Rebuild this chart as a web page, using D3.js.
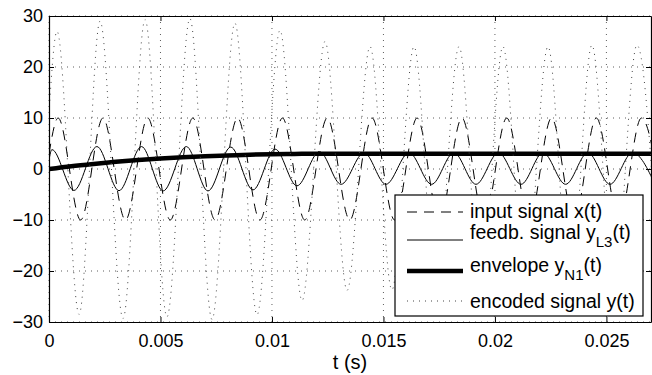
<!DOCTYPE html>
<html>
<head>
<meta charset="utf-8">
<script src="https://cdn.jsdelivr.net/npm/d3@7/dist/d3.min.js"></script>
<style>
body { margin: 0; background: #fff; }
svg { display: block; font-family: "Liberation Sans", Arial, Helvetica, sans-serif; }
</style>
</head>
<body>
<script>
// tick values
let x_ticks = [0, 0.005, 0.01, 0.015, 0.02, 0.025];
let y_ticks = [-30, -20, -10, 0, 10, 20, 30];

// input signal x(t): start + extrema
let input_t = [0, 0.00041, 0.00142, 0.00242, 0.00343, 0.00443, 0.00544, 0.00645, 0.00745, 0.00846, 0.00946,
               0.01047, 0.01147, 0.01248, 0.01349, 0.01449, 0.0155, 0.01651, 0.01751, 0.01852, 0.01952,
               0.02053, 0.02154, 0.02254, 0.02355, 0.02455, 0.02556, 0.02657, 0.02758];
let input_v = [3, 10, -10, 10, -10, 10, -10, 10, -10, 10, -10, 10, -10, 10, -10,
               10, -10, 10, -10, 10, -10, 10, -10, 10, -10, 10, -10, 10, -10];

// feedback signal y_L3(t)
let feedb_t = [0, 0.00013, 0.00112, 0.00215, 0.00314, 0.00415, 0.00512, 0.00616, 0.00713, 0.00815, 0.00915,
               0.01014, 0.01112, 0.01213, 0.0131, 0.01413, 0.01511, 0.01615, 0.01716, 0.01816, 0.01915,
               0.02016, 0.02117, 0.02216, 0.02317, 0.02417, 0.02516, 0.02617, 0.02718];
let feedb_v = [1.8, 3.8, -4.2, 4.4, -4.25, 4.4, -4.3, 4.4, -4.3, 4.3, -4.1, 3.9, -3.3, 3.4, -3.0,
               3.2, -3.0, 3.2, -3.0, 3.2, -3.0, 3.2, -3.0, 3.2, -3.0, 3.2, -3.0, 3.2, -3.0];

// envelope y_N1(t)
let env_t = [0, 0.001, 0.002, 0.003, 0.004, 0.005, 0.006, 0.007, 0.008, 0.009, 0.01, 0.011, 0.012, 0.014, 0.027];
let env_v = [0, 0.55, 1.0, 1.4, 1.75, 2.05, 2.3, 2.5, 2.65, 2.8, 2.9, 2.95, 3.0, 3.0, 3.0];

// encoded signal y(t)
let enc_t = [0, 0.00036, 0.00135, 0.00229, 0.00332, 0.00431, 0.00529, 0.00632, 0.00731, 0.00834, 0.00933,
             0.01036, 0.01135, 0.01238, 0.01337, 0.0144, 0.01538, 0.01637, 0.01736, 0.01839, 0.01938,
             0.02036, 0.02135, 0.02238, 0.02337, 0.02435, 0.02534, 0.02637, 0.02736];
let enc_v = [11, 27, -28.5, 29, -29.3, 29.3, -29, 29.5, -29.5, 28.6, -28.6, 27.2, -25.8, 25, -23.8,
             24, -23.7, 24, -23.7, 24, -23.7, 24, -23.7, 24, -23.7, 24.3, -23.7, 24.3, -23.7];

// legend texts (main, subscript, rest)
let legend_texts = [
    ["input signal x(t)", "", ""],
    ["feedb. signal y", "L3", "(t)"],
    ["envelope y", "N1", "(t)"],
    ["encoded signal y(t)", "", ""]
];

// size
let width = 652;
let height = 375;
let plot = {left: 49, right: 651, top: 16, bottom: 322};

let styles = [
    {stroke: "#000", width: 1, dash: "10,7"},
    {stroke: "#000", width: 1, dash: null},
    {stroke: "#000", width: 4.5, dash: null},
    {stroke: "#444", width: 1, dash: "1,5"}
];

let svg = d3.select("body").append("svg")
            .attr("width", width)
            .attr("height", height);

let x = d3.scaleLinear().domain([0, 0.027]).range([plot.left, plot.right]);
let y = d3.scaleLinear().domain([-30, 30]).range([plot.bottom, plot.top]);

svg.append("clipPath").attr("id", "clip")
   .append("rect")
   .attr("x", plot.left).attr("y", plot.top)
   .attr("width", plot.right - plot.left)
   .attr("height", plot.bottom - plot.top);

// grid
let grid = svg.append("g").attr("stroke", "#333").attr("stroke-width", 0.8).attr("stroke-dasharray", "1,5");
grid.selectAll(".gx").data(x_ticks).enter().append("line")
    .attr("x1", d => x(d)).attr("x2", d => x(d))
    .attr("y1", plot.top).attr("y2", plot.bottom);
grid.selectAll(".gy").data(y_ticks).enter().append("line")
    .attr("x1", plot.left).attr("x2", plot.right)
    .attr("y1", d => y(d)).attr("y2", d => y(d));

// signals
let line = d3.line().x(d => x(d[0])).y(d => y(d[1])).curve(d3.curveMonotoneX);
let series = [d3.zip(input_t, input_v), d3.zip(feedb_t, feedb_v), d3.zip(env_t, env_v), d3.zip(enc_t, enc_v)];

let sig = svg.append("g").attr("clip-path", "url(#clip)");
series.forEach((s, i) => {
    sig.append("path")
       .attr("d", line(s))
       .attr("fill", "none")
       .attr("stroke", styles[i].stroke)
       .attr("stroke-width", styles[i].width)
       .attr("stroke-dasharray", styles[i].dash);
});

// axes
let fmt_y = d => d < 0 ? "\u2212" + (-d) : String(d);
let fmt_x = d => String(d);

let ax_b = svg.append("g").attr("transform", `translate(0,${plot.bottom})`)
              .call(d3.axisBottom(x).tickValues(x_ticks).tickSize(-5).tickSizeOuter(0).tickPadding(12).tickFormat(fmt_x));
let ax_t = svg.append("g").attr("transform", `translate(0,${plot.top})`)
              .call(d3.axisTop(x).tickValues(x_ticks).tickSize(-5).tickSizeOuter(0).tickFormat(""));
let ax_l = svg.append("g").attr("transform", `translate(${plot.left},0)`)
              .call(d3.axisLeft(y).tickValues(y_ticks).tickSize(-5).tickSizeOuter(0).tickPadding(6).tickFormat(fmt_y));
let ax_r = svg.append("g").attr("transform", `translate(${plot.right},0)`)
              .call(d3.axisRight(y).tickValues(y_ticks).tickSize(-5).tickSizeOuter(0).tickFormat(""));

[ax_b, ax_t, ax_l, ax_r].forEach(a => {
    a.select(".domain").attr("stroke", "#000").attr("stroke-width", 1.2);
    a.selectAll(".tick line").attr("stroke", "#000");
    a.selectAll("text").attr("fill", "#000").style("font-size", "18px")
     .style("font-family", "'Liberation Sans', Arial, sans-serif");
});

svg.append("text")
   .attr("x", (plot.left + plot.right) / 2)
   .attr("y", 369)
   .attr("text-anchor", "middle")
   .style("font-size", "20px")
   .text("t (s)");

// legend
let lg = svg.append("g");
lg.append("rect")
  .attr("x", 395).attr("y", 195).attr("width", 248).attr("height", 121)
  .attr("fill", "#fff").attr("stroke", "#000").attr("stroke-width", 1.2);

let row_line_y = [212, 240, 271, 301];
let row_text_y = [217.5, 239, 271.5, 307.5];

legend_texts.forEach((t, i) => {
    lg.append("line")
      .attr("x1", 407).attr("x2", 463)
      .attr("y1", row_line_y[i]).attr("y2", row_line_y[i])
      .attr("stroke", styles[i].stroke)
      .attr("stroke-width", styles[i].width)
      .attr("stroke-dasharray", styles[i].dash);
    let txt = lg.append("text")
                .attr("x", 470).attr("y", row_text_y[i])
                .style("font-size", "19.5px");
    txt.append("tspan").text(t[0]);
    if (t[1]) {
        txt.append("tspan").attr("dy", 8).style("font-size", "15px").text(t[1]);
        txt.append("tspan").attr("dy", -8).text(t[2]);
    }
});
</script>
</body>
</html>
